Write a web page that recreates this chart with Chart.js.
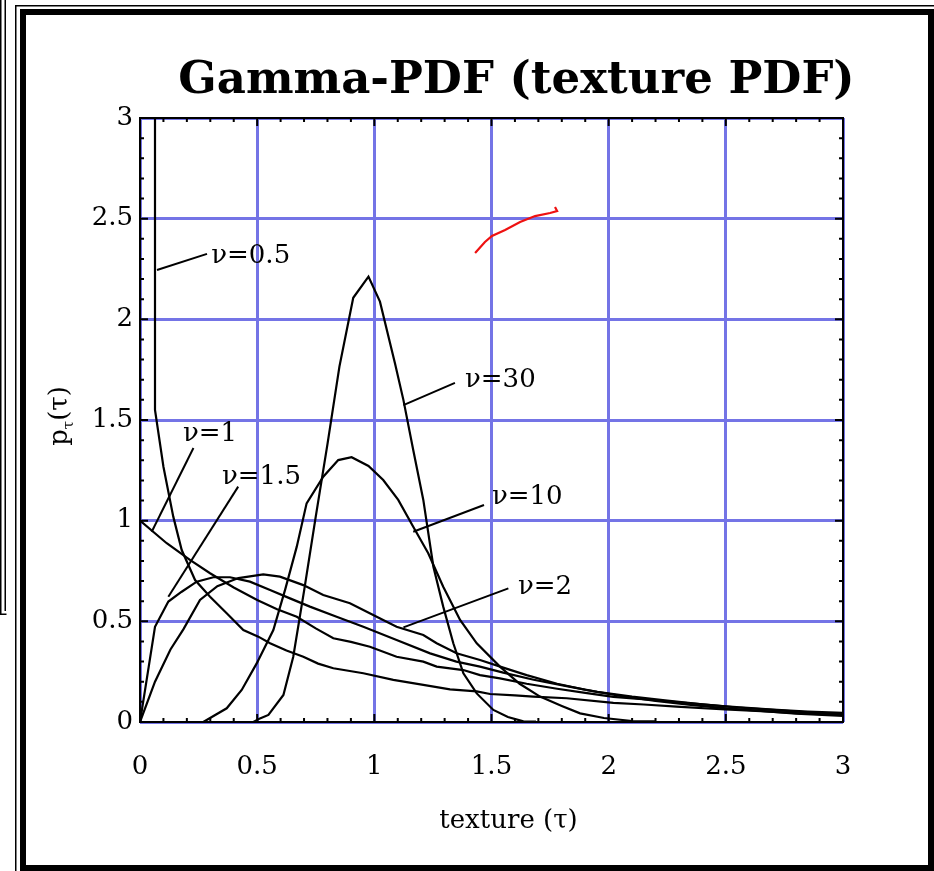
<!DOCTYPE html>
<html>
<head>
<meta charset="utf-8">
<title>Gamma-PDF (texture PDF)</title>
<script src="https://cdn.jsdelivr.net/npm/chart.js@4/dist/chart.umd.min.js"></script>
<style>
  html, body { margin: 0; padding: 0; background: #fff; }
  #wrap { position: relative; width: 934px; height: 871px; }
</style>
</head>
<body>
<div id="wrap"><canvas id="chart" width="934" height="871"></canvas></div>
<script>
// texture values (tau) and pdf values p(tau)
const tauNu05 = [0.064, 0.064, 0.10, 0.142, 0.178, 0.235, 0.299, 0.37, 0.441, 0.505, 0.555, 0.625, 0.697, 0.76, 0.825, 0.953, 1.081, 1.209, 1.323, 1.437, 1.494, 1.60, 1.678, 1.821, 2.02, 2.15, 2.29, 2.497, 2.65, 2.817, 3.0];
const pNu05   = [3.6, 1.55, 1.268, 1.02, 0.854, 0.705, 0.622, 0.54, 0.457, 0.424, 0.391, 0.355, 0.324, 0.29, 0.267, 0.242, 0.209, 0.184, 0.162, 0.152, 0.139, 0.132, 0.126, 0.118, 0.095, 0.087, 0.076, 0.062, 0.054, 0.043, 0.035];

const tauNu1 = [0, 0.114, 0.213, 0.299, 0.40, 0.50, 0.585, 0.669, 0.75, 0.825, 0.90, 0.981, 1.095, 1.209, 1.266, 1.38, 1.451, 1.536, 1.65, 1.78, 1.90, 2.02, 2.2, 2.35, 2.5, 2.7, 2.85, 3.0];
const pNu1   = [1.0, 0.888, 0.805, 0.739, 0.668, 0.606, 0.56, 0.523, 0.465, 0.416, 0.398, 0.374, 0.324, 0.30, 0.275, 0.258, 0.233, 0.217, 0.19, 0.165, 0.145, 0.125, 0.108, 0.093, 0.078, 0.062, 0.052, 0.045];

const tauNu15 = [0, 0.064, 0.121, 0.178, 0.242, 0.313, 0.384, 0.469, 0.555, 0.64, 0.725, 0.839, 0.953, 1.095, 1.238, 1.35, 1.451, 1.55, 1.68, 1.82, 1.95, 2.1, 2.25, 2.4, 2.55, 2.7, 2.85, 3.0];
const pNu15   = [0, 0.473, 0.598, 0.647, 0.697, 0.719, 0.719, 0.697, 0.656, 0.614, 0.573, 0.523, 0.473, 0.407, 0.341, 0.30, 0.275, 0.245, 0.21, 0.178, 0.15, 0.126, 0.106, 0.088, 0.072, 0.06, 0.048, 0.04];

const tauNu2 = [0, 0.064, 0.13, 0.185, 0.256, 0.33, 0.42, 0.526, 0.597, 0.697, 0.782, 0.896, 1.01, 1.095, 1.209, 1.266, 1.351, 1.451, 1.55, 1.65, 1.78, 1.9, 2.05, 2.2, 2.35, 2.5, 2.65, 2.8, 3.0];
const pNu2   = [0, 0.2, 0.36, 0.46, 0.606, 0.675, 0.715, 0.733, 0.722, 0.68, 0.631, 0.59, 0.523, 0.473, 0.432, 0.391, 0.341, 0.308, 0.27, 0.233, 0.19, 0.16, 0.13, 0.105, 0.085, 0.068, 0.055, 0.042, 0.03];

const tauNu10 = [0.27, 0.37, 0.434, 0.498, 0.569, 0.62, 0.669, 0.711, 0.782, 0.846, 0.903, 0.975, 1.038, 1.102, 1.166, 1.23, 1.294, 1.366, 1.437, 1.536, 1.62, 1.707, 1.8, 1.878, 1.98, 2.1, 2.2];
const pNu10   = [0, 0.068, 0.159, 0.291, 0.457, 0.66, 0.871, 1.086, 1.218, 1.301, 1.315, 1.272, 1.202, 1.103, 0.97, 0.838, 0.672, 0.507, 0.391, 0.275, 0.19, 0.126, 0.08, 0.043, 0.02, 0.005, 0.003];

const tauNu30 = [0.484, 0.512, 0.548, 0.612, 0.654, 0.70, 0.75, 0.80, 0.851, 0.91, 0.975, 1.024, 1.088, 1.124, 1.166, 1.209, 1.252, 1.294, 1.337, 1.38, 1.437, 1.508, 1.57, 1.636, 1.69];
const pNu30   = [0, 0.018, 0.035, 0.134, 0.324, 0.65, 1.02, 1.38, 1.765, 2.107, 2.212, 2.088, 1.782, 1.60, 1.351, 1.103, 0.771, 0.573, 0.391, 0.242, 0.142, 0.06, 0.025, 0.003, 0.002];

// red hand-drawn stroke
const tauRed = [1.430, 1.472, 1.502, 1.558, 1.622, 1.686, 1.750, 1.780, 1.771];
const pRed   = [2.330, 2.384, 2.414, 2.444, 2.483, 2.513, 2.528, 2.538, 2.558];

const tickLabels = ["0", "0.5", "1", "1.5", "2", "2.5", "3"];

// curve labels: text, leader line (from curve to label) and text anchor, in data units
const curveLabels = [
  { text: "ν=0.5", from: [0.0725, 2.245], to: [0.286, 2.325], at: [0.304, 2.312] },
  { text: "ν=1",   from: [0.050, 0.945],  to: [0.228, 1.361], at: [0.1835, 1.430] },
  { text: "ν=1.5", from: [0.121, 0.622],  to: [0.419, 1.169], at: [0.350, 1.217] },
  { text: "ν=30",  from: [1.124, 1.574],  to: [1.344, 1.684], at: [1.387, 1.699] },
  { text: "ν=10",  from: [1.166, 0.945],  to: [1.468, 1.078], at: [1.502, 1.118] },
  { text: "ν=2",   from: [1.124, 0.470],  to: [1.572, 0.664], at: [1.613, 0.671] }
];

const zip = (xs, ys) => xs.map((x, i) => ({ x: x, y: ys[i] }));
const curve = (label, xs, ys, color, width) => ({
  label: label,
  data: zip(xs, ys),
  borderColor: color || '#000',
  borderWidth: width || 2.2,
  pointRadius: 0,
  tension: 0,
  fill: false
});

const gridBlue = '#7474e6';
const serif = "'DejaVu Serif', serif";

Chart.defaults.font.family = serif;
Chart.defaults.color = '#000';

const decor = {
  id: 'decor',
  beforeDraw(chart) {
    const ctx = chart.ctx;
    ctx.save();
    ctx.fillStyle = '#fff';
    ctx.fillRect(0, 0, chart.width, chart.height);
    ctx.fillStyle = '#000';
    // small double box at far left
    ctx.fillRect(0, 0, 1.5, 615);
    ctx.fillRect(4.5, 0, 1.5, 611);
    ctx.fillRect(0, 613.5, 6.5, 1.5);
    // thin outer frame
    ctx.fillRect(15, 5, 934, 1.5);
    ctx.fillRect(15, 5, 1.5, 871);
    // thick frame
    ctx.fillRect(20, 9, 6, 871);
    ctx.fillRect(20, 9, 934, 6);
    ctx.fillRect(928, 9, 6, 871);
    ctx.fillRect(20, 865, 934, 6);
    ctx.restore();
  },
  beforeDatasetsDraw(chart) {
    const ctx = chart.ctx;
    const a = chart.chartArea;
    const xs = chart.scales.x, ys = chart.scales.y;
    ctx.save();
    ctx.strokeStyle = '#000';
    ctx.lineWidth = 2;
    ctx.strokeRect(a.left, a.top, a.right - a.left, a.bottom - a.top);
    ctx.beginPath();
    for (let i = 0; i <= 30; i++) {
      const v = i / 10;
      const len = i % 5 === 0 ? 8 : 4;
      const px = xs.getPixelForValue(v);
      const py = ys.getPixelForValue(v);
      ctx.moveTo(px, a.bottom); ctx.lineTo(px, a.bottom - len);
      ctx.moveTo(px, a.top); ctx.lineTo(px, a.top + len);
      ctx.moveTo(a.left, py); ctx.lineTo(a.left + len, py);
      ctx.moveTo(a.right, py); ctx.lineTo(a.right - len, py);
    }
    ctx.stroke();
    ctx.restore();
  },
  afterDatasetsDraw(chart) {
    const ctx = chart.ctx;
    const xs = chart.scales.x, ys = chart.scales.y;
    const a = chart.chartArea;
    ctx.save();
    // leader lines and labels
    ctx.strokeStyle = '#000';
    ctx.lineWidth = 2;
    ctx.fillStyle = '#000';
    ctx.font = '26px ' + serif;
    ctx.textBaseline = 'middle';
    ctx.textAlign = 'left';
    curveLabels.forEach(l => {
      ctx.beginPath();
      ctx.moveTo(xs.getPixelForValue(l.from[0]), ys.getPixelForValue(l.from[1]));
      ctx.lineTo(xs.getPixelForValue(l.to[0]), ys.getPixelForValue(l.to[1]));
      ctx.stroke();
      ctx.fillText(l.text, xs.getPixelForValue(l.at[0]), ys.getPixelForValue(l.at[1]));
    });

    // title
    const title = 'Gamma-PDF (texture PDF)';
    let size = 46;
    ctx.font = 'bold ' + size + 'px ' + serif;
    size = size * 677 / ctx.measureText(title).width;
    ctx.font = 'bold ' + size.toFixed(1) + 'px ' + serif;
    ctx.textAlign = 'center';
    ctx.textBaseline = 'alphabetic';
    ctx.fillText(title, 516.5, 93);

    // x axis title
    ctx.font = '26px ' + serif;
    ctx.fillText('texture (τ)', (a.left + a.right) / 2 + 17, 828);

    // y axis title p_τ(τ), rotated
    ctx.translate(67, (a.top + a.bottom) / 2 - 4);
    ctx.rotate(-Math.PI / 2);
    ctx.textAlign = 'left';
    const mainFont = '26px ' + serif, subFont = '15px ' + serif;
    ctx.font = mainFont; const wP = ctx.measureText('p').width;
    ctx.font = subFont;  const wS = ctx.measureText('τ').width;
    ctx.font = mainFont; const wR = ctx.measureText('(τ)').width;
    let x0 = -(wP + wS + wR) / 2;
    ctx.font = mainFont; ctx.fillText('p', x0, 0);
    ctx.font = subFont;  ctx.fillText('τ', x0 + wP, 6);
    ctx.font = mainFont; ctx.fillText('(τ)', x0 + wP + wS, 0);
    ctx.restore();
  }
};

const axis = (padding, fit) => ({
  type: 'linear',
  min: 0,
  max: 3,
  ticks: {
    stepSize: 0.5,
    padding: padding,
    autoSkip: false,
    maxRotation: 0,
    color: '#000',
    font: { size: 26, family: serif },
    callback: (v) => tickLabels[Math.round(v * 2)]
  },
  grid: { color: gridBlue, lineWidth: 3, drawTicks: false },
  border: { display: false },
  afterFit: fit
});

new Chart(document.getElementById('chart').getContext('2d'), {
  type: 'line',
  data: {
    datasets: [
      curve('ν=0.5', tauNu05, pNu05),
      curve('ν=1', tauNu1, pNu1),
      curve('ν=1.5', tauNu15, pNu15),
      curve('ν=2', tauNu2, pNu2),
      curve('ν=10', tauNu10, pNu10),
      curve('ν=30', tauNu30, pNu30),
      curve('stroke', tauRed, pRed, '#ee1111', 2.2)
    ]
  },
  options: {
    responsive: false,
    animation: false,
    devicePixelRatio: 1,
    layout: { padding: { top: 118, right: 91, left: 0, bottom: 0 } },
    plugins: { legend: { display: false }, tooltip: { enabled: false }, title: { display: false } },
    scales: {
      x: axis(30, s => { s.height = 149; }),
      y: axis(7, s => { s.width = 140; })
    }
  },
  plugins: [decor]
});
</script>
</body>
</html>
